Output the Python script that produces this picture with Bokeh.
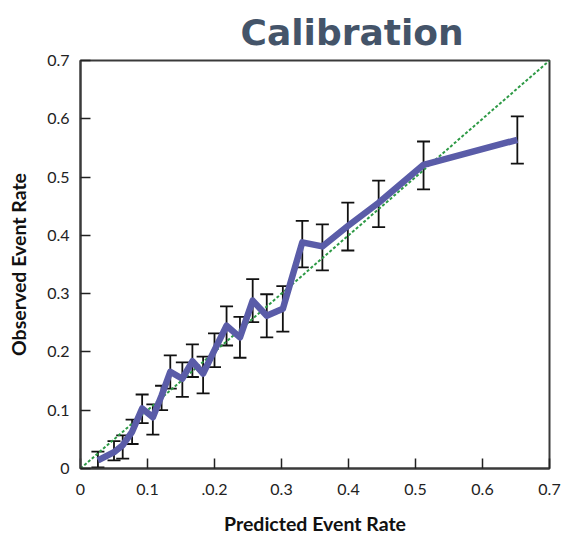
from bokeh.plotting import figure
from bokeh.models import Range1d, FixedTicker, ColumnDataSource, Whisker, TeeHead
from bokeh.embed import file_html
from bokeh.resources import INLINE

# ---- data ----
predicted = [0.026, 0.050, 0.063, 0.077, 0.092, 0.108, 0.121, 0.134, 0.152, 0.167,
             0.183, 0.200, 0.218, 0.238, 0.257, 0.278, 0.302, 0.331, 0.361, 0.399,
             0.445, 0.512, 0.652]
observed = [0.014, 0.028, 0.040, 0.063, 0.103, 0.088, 0.125, 0.166, 0.154, 0.184,
            0.163, 0.203, 0.245, 0.225, 0.288, 0.262, 0.274, 0.388, 0.381, 0.416,
            0.456, 0.521, 0.564]
lower = [0.002, 0.014, 0.017, 0.042, 0.078, 0.058, 0.100, 0.137, 0.123, 0.157,
         0.129, 0.174, 0.211, 0.190, 0.251, 0.225, 0.235, 0.345, 0.340, 0.374,
         0.414, 0.479, 0.523]
upper = [0.029, 0.047, 0.057, 0.084, 0.127, 0.110, 0.142, 0.194, 0.182, 0.213,
         0.192, 0.232, 0.278, 0.260, 0.325, 0.299, 0.313, 0.425, 0.419, 0.456,
         0.494, 0.561, 0.604]
diag_x = [0.0, 0.7]
diag_y = [0.0, 0.7]
x_ticks = [0, 0.1, 0.2, 0.3, 0.4, 0.5, 0.6, 0.7]
x_tick_labels = ["0", "0.1", ".0.2", "0.3", "0.4", "0.5", "0.6", "0.7"]
y_ticks = [0, 0.1, 0.2, 0.3, 0.4, 0.5, 0.6, 0.7]
y_tick_labels = ["0", "0.1", "0.2", "0.3", "0.4", "0.5", "0.6", "0.7"]

p = figure(output_backend="svg", toolbar_location=None,
           x_range=Range1d(0, 0.7), y_range=Range1d(0, 0.7),
           frame_width=469, frame_height=408,
           min_border_left=80, min_border_right=14,
           min_border_top=60, min_border_bottom=68)

p.title.text = "Calibration"
p.title.text_font = "DejaVu Sans"
p.title.text_font_style = "bold"
p.title.text_font_size = "36px"
p.title.text_color = "#445469"
p.title.align = "left"
p.title.offset = 160
p.title.standoff = 16

p.xgrid.visible = False
p.ygrid.visible = False
p.outline_line_color = "#3a3a3a"
p.outline_line_width = 2
p.outline_line_alpha = 1

# diagonal reference
p.line(diag_x, diag_y, line_color="#2e9a46", line_width=2, line_dash="3 2")

src = ColumnDataSource(dict(x=predicted, y=observed, lo=lower, up=upper))
wh = Whisker(source=src, base="x", lower="lo", upper="up",
             line_color="#111111", line_width=1.8,
             upper_head=TeeHead(size=13, line_color="#111111", line_width=1.8),
             lower_head=TeeHead(size=13, line_color="#111111", line_width=1.8))
p.add_layout(wh)

p.line("x", "y", source=src, line_color="#5a5ca8", line_width=6.5, line_join="round")

for ax, ticks, labels in ((p.xaxis[0], x_ticks, x_tick_labels), (p.yaxis[0], y_ticks, y_tick_labels)):
    ax.ticker = FixedTicker(ticks=ticks)
    ax.major_label_overrides = {t: l for t, l in zip(ticks, labels)}
    ax.minor_tick_line_color = None
    ax.major_tick_in = 10
    ax.major_tick_out = 0
    ax.major_tick_line_color = "#222222"
    ax.major_tick_line_width = 1.5
    ax.axis_line_color = "#3a3a3a"
    ax.axis_line_width = 2
    ax.major_label_text_font = "Lato"
    ax.major_label_text_font_size = "16px"
    ax.major_label_text_color = "#222222"
    ax.axis_label_text_font = "Lato"
    ax.axis_label_text_font_style = "bold"
    ax.axis_label_text_font_size = "19.5px"
    ax.axis_label_text_color = "#111111"

p.xaxis.axis_label = "Predicted Event Rate"
p.yaxis.axis_label = "Observed Event Rate"
p.xaxis.major_label_standoff = 15
p.yaxis.major_label_standoff = 11
p.xaxis.axis_label_standoff = 14
p.yaxis.axis_label_standoff = 14

open("out.html", "w").write(file_html(p, INLINE))
